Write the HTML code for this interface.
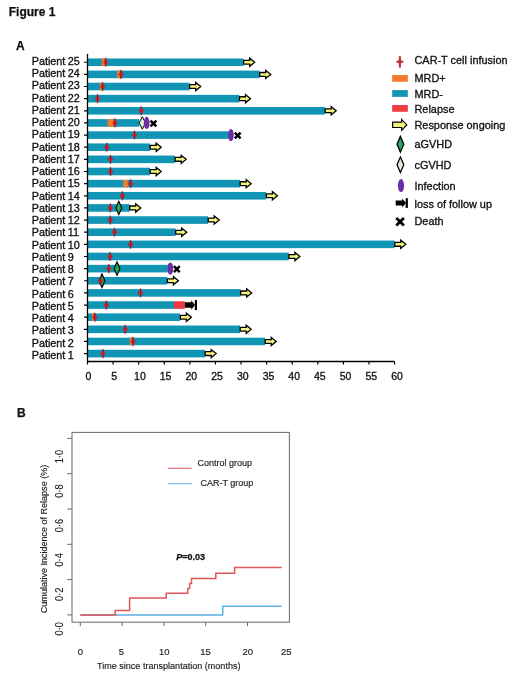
<!DOCTYPE html><html><head><meta charset="utf-8"><style>html,body{margin:0;padding:0;background:#fff;width:520px;height:677px;overflow:hidden}</style></head><body><svg width="520" height="677" viewBox="0 0 520 677" style="display:block;filter:blur(0.3px)">
<rect width="520" height="677" fill="#fff"/>
<text x="8.75" y="16.2" font-family="Liberation Sans, sans-serif" stroke="#111" stroke-width="0.25" font-size="12" font-weight="bold" fill="#111">Figure 1</text>
<text x="15.9" y="50" font-family="Liberation Sans, sans-serif" stroke="#111" stroke-width="0.25" font-size="12" font-weight="bold" fill="#111">A</text>
<rect x="88.0" y="349.80" width="117.00" height="7.6" fill="#1195b5"/>
<rect x="88.0" y="337.66" width="177.00" height="7.6" fill="#1195b5"/>
<rect x="129.8" y="337.66" width="2.40" height="7.6" fill="#f07c2c"/>
<rect x="88.0" y="325.52" width="152.00" height="7.6" fill="#1195b5"/>
<rect x="88.0" y="313.38" width="92.20" height="7.6" fill="#1195b5"/>
<rect x="92.0" y="313.38" width="2.50" height="7.6" fill="#f07c2c"/>
<rect x="88.0" y="301.24" width="86.00" height="7.6" fill="#1195b5"/>
<rect x="174.0" y="301.24" width="10.80" height="7.6" fill="#f03a42"/>
<rect x="88.0" y="289.10" width="152.50" height="7.6" fill="#1195b5"/>
<rect x="88.0" y="276.96" width="79.20" height="7.6" fill="#1195b5"/>
<rect x="88.0" y="264.82" width="79.80" height="7.6" fill="#1195b5"/>
<rect x="88.0" y="252.68" width="200.70" height="7.6" fill="#1195b5"/>
<rect x="88.0" y="240.54" width="306.60" height="7.6" fill="#1195b5"/>
<rect x="88.0" y="228.40" width="87.50" height="7.6" fill="#1195b5"/>
<rect x="88.0" y="216.26" width="120.00" height="7.6" fill="#1195b5"/>
<rect x="88.0" y="204.12" width="41.50" height="7.6" fill="#1195b5"/>
<rect x="88.0" y="191.98" width="178.20" height="7.6" fill="#1195b5"/>
<rect x="88.0" y="179.84" width="152.00" height="7.6" fill="#1195b5"/>
<rect x="123.2" y="179.84" width="4.60" height="7.6" fill="#f07c2c"/>
<rect x="88.0" y="167.70" width="62.00" height="7.6" fill="#1195b5"/>
<rect x="88.0" y="155.56" width="87.00" height="7.6" fill="#1195b5"/>
<rect x="88.0" y="143.42" width="62.00" height="7.6" fill="#1195b5"/>
<rect x="88.0" y="131.28" width="140.70" height="7.6" fill="#1195b5"/>
<rect x="88.0" y="119.14" width="51.20" height="7.6" fill="#1195b5"/>
<rect x="107.5" y="119.14" width="6.30" height="7.6" fill="#f07c2c"/>
<rect x="88.0" y="107.00" width="237.00" height="7.6" fill="#1195b5"/>
<rect x="88.0" y="94.86" width="151.30" height="7.6" fill="#1195b5"/>
<rect x="88.0" y="82.72" width="101.50" height="7.6" fill="#1195b5"/>
<rect x="99.8" y="82.72" width="2.20" height="7.6" fill="#f07c2c"/>
<rect x="88.0" y="70.58" width="171.50" height="7.6" fill="#1195b5"/>
<rect x="117.2" y="70.58" width="3.30" height="7.6" fill="#f07c2c"/>
<rect x="88.0" y="58.44" width="155.50" height="7.6" fill="#1195b5"/>
<rect x="101.8" y="58.44" width="3.20" height="7.6" fill="#f07c2c"/>
<path transform="translate(103.00,353.60)" d="M0,-4.6 C0.5,-2.8 1.2,-1.2 2.4,0 C1.2,1.2 0.5,2.8 0,4.6 C-0.5,2.8 -1.2,1.2 -2.4,0 C-1.2,-1.2 -0.5,-2.8 0,-4.6 Z" fill="#df1b2a" stroke="#a01822" stroke-width="0.4"/><path transform="translate(103.00,353.60)" d="M0,-4.2 L0,4.2" stroke="#8a1020" stroke-width="0.6"/>
<path transform="translate(205.00,353.60) scale(1.0)" d="M0.2,-1.9 L6.2,-1.9 L6.2,-4.1 L11.2,0 L6.2,4.1 L6.2,1.9 L0.2,1.9 Z" fill="#f5f27c" stroke="#000" stroke-width="1.3" stroke-linejoin="miter"/>
<path transform="translate(133.00,341.46)" d="M0,-4.6 C0.5,-2.8 1.2,-1.2 2.4,0 C1.2,1.2 0.5,2.8 0,4.6 C-0.5,2.8 -1.2,1.2 -2.4,0 C-1.2,-1.2 -0.5,-2.8 0,-4.6 Z" fill="#df1b2a" stroke="#a01822" stroke-width="0.4"/><path transform="translate(133.00,341.46)" d="M0,-4.2 L0,4.2" stroke="#8a1020" stroke-width="0.6"/>
<path transform="translate(265.00,341.46) scale(1.0)" d="M0.2,-1.9 L6.2,-1.9 L6.2,-4.1 L11.2,0 L6.2,4.1 L6.2,1.9 L0.2,1.9 Z" fill="#f5f27c" stroke="#000" stroke-width="1.3" stroke-linejoin="miter"/>
<path transform="translate(125.20,329.32)" d="M0,-4.6 C0.5,-2.8 1.2,-1.2 2.4,0 C1.2,1.2 0.5,2.8 0,4.6 C-0.5,2.8 -1.2,1.2 -2.4,0 C-1.2,-1.2 -0.5,-2.8 0,-4.6 Z" fill="#df1b2a" stroke="#a01822" stroke-width="0.4"/><path transform="translate(125.20,329.32)" d="M0,-4.2 L0,4.2" stroke="#8a1020" stroke-width="0.6"/>
<path transform="translate(240.00,329.32) scale(1.0)" d="M0.2,-1.9 L6.2,-1.9 L6.2,-4.1 L11.2,0 L6.2,4.1 L6.2,1.9 L0.2,1.9 Z" fill="#f5f27c" stroke="#000" stroke-width="1.3" stroke-linejoin="miter"/>
<path transform="translate(94.80,317.18)" d="M0,-4.6 C0.5,-2.8 1.2,-1.2 2.4,0 C1.2,1.2 0.5,2.8 0,4.6 C-0.5,2.8 -1.2,1.2 -2.4,0 C-1.2,-1.2 -0.5,-2.8 0,-4.6 Z" fill="#df1b2a" stroke="#a01822" stroke-width="0.4"/><path transform="translate(94.80,317.18)" d="M0,-4.2 L0,4.2" stroke="#8a1020" stroke-width="0.6"/>
<path transform="translate(180.20,317.18) scale(1.0)" d="M0.2,-1.9 L6.2,-1.9 L6.2,-4.1 L11.2,0 L6.2,4.1 L6.2,1.9 L0.2,1.9 Z" fill="#f5f27c" stroke="#000" stroke-width="1.3" stroke-linejoin="miter"/>
<path transform="translate(106.30,305.04)" d="M0,-4.6 C0.5,-2.8 1.2,-1.2 2.4,0 C1.2,1.2 0.5,2.8 0,4.6 C-0.5,2.8 -1.2,1.2 -2.4,0 C-1.2,-1.2 -0.5,-2.8 0,-4.6 Z" fill="#df1b2a" stroke="#a01822" stroke-width="0.4"/><path transform="translate(106.30,305.04)" d="M0,-4.2 L0,4.2" stroke="#8a1020" stroke-width="0.6"/>
<g transform="translate(184.80,305.04) scale(1.0)"><path d="M0,-2.7 L6.4,-2.7 L6.4,-4.8 L10.3,0 L6.4,4.8 L6.4,2.7 L0,2.7 Z" fill="#000"/><rect x="10.0" y="-5.0" width="2.2" height="10" fill="#000"/></g>
<path transform="translate(140.50,292.90)" d="M0,-4.6 C0.5,-2.8 1.2,-1.2 2.4,0 C1.2,1.2 0.5,2.8 0,4.6 C-0.5,2.8 -1.2,1.2 -2.4,0 C-1.2,-1.2 -0.5,-2.8 0,-4.6 Z" fill="#df1b2a" stroke="#a01822" stroke-width="0.4"/><path transform="translate(140.50,292.90)" d="M0,-4.2 L0,4.2" stroke="#8a1020" stroke-width="0.6"/>
<path transform="translate(240.50,292.90) scale(1.0)" d="M0.2,-1.9 L6.2,-1.9 L6.2,-4.1 L11.2,0 L6.2,4.1 L6.2,1.9 L0.2,1.9 Z" fill="#f5f27c" stroke="#000" stroke-width="1.3" stroke-linejoin="miter"/>
<path d="M102.00,273.96 L104.95,280.76 L102.00,287.56 L99.05,280.76 Z" fill="#25a65c" stroke="#000" stroke-width="1.1"/>
<path transform="translate(100.50,280.76)" d="M0,-4.6 C0.5,-2.8 1.2,-1.2 2.4,0 C1.2,1.2 0.5,2.8 0,4.6 C-0.5,2.8 -1.2,1.2 -2.4,0 C-1.2,-1.2 -0.5,-2.8 0,-4.6 Z" fill="#df1b2a" stroke="#a01822" stroke-width="0.4"/><path transform="translate(100.50,280.76)" d="M0,-4.2 L0,4.2" stroke="#8a1020" stroke-width="0.6"/>
<path transform="translate(167.20,280.76) scale(1.0)" d="M0.2,-1.9 L6.2,-1.9 L6.2,-4.1 L11.2,0 L6.2,4.1 L6.2,1.9 L0.2,1.9 Z" fill="#f5f27c" stroke="#000" stroke-width="1.3" stroke-linejoin="miter"/>
<path d="M117.00,261.82 L119.95,268.62 L117.00,275.42 L114.05,268.62 Z" fill="#25a65c" stroke="#000" stroke-width="1.1"/>
<path transform="translate(108.80,268.62)" d="M0,-4.6 C0.5,-2.8 1.2,-1.2 2.4,0 C1.2,1.2 0.5,2.8 0,4.6 C-0.5,2.8 -1.2,1.2 -2.4,0 C-1.2,-1.2 -0.5,-2.8 0,-4.6 Z" fill="#df1b2a" stroke="#a01822" stroke-width="0.4"/><path transform="translate(108.80,268.62)" d="M0,-4.2 L0,4.2" stroke="#8a1020" stroke-width="0.6"/>
<ellipse cx="170.30" cy="268.62" rx="2.9" ry="6.1" fill="#6b2ea3"/>
<path d="M173.90,266.22 L179.70,272.02 M179.70,266.22 L173.90,272.02" stroke="#000" stroke-width="2.5" fill="none"/>
<path transform="translate(110.00,256.48)" d="M0,-4.6 C0.5,-2.8 1.2,-1.2 2.4,0 C1.2,1.2 0.5,2.8 0,4.6 C-0.5,2.8 -1.2,1.2 -2.4,0 C-1.2,-1.2 -0.5,-2.8 0,-4.6 Z" fill="#df1b2a" stroke="#a01822" stroke-width="0.4"/><path transform="translate(110.00,256.48)" d="M0,-4.2 L0,4.2" stroke="#8a1020" stroke-width="0.6"/>
<path transform="translate(288.70,256.48) scale(1.0)" d="M0.2,-1.9 L6.2,-1.9 L6.2,-4.1 L11.2,0 L6.2,4.1 L6.2,1.9 L0.2,1.9 Z" fill="#f5f27c" stroke="#000" stroke-width="1.3" stroke-linejoin="miter"/>
<path transform="translate(130.50,244.34)" d="M0,-4.6 C0.5,-2.8 1.2,-1.2 2.4,0 C1.2,1.2 0.5,2.8 0,4.6 C-0.5,2.8 -1.2,1.2 -2.4,0 C-1.2,-1.2 -0.5,-2.8 0,-4.6 Z" fill="#df1b2a" stroke="#a01822" stroke-width="0.4"/><path transform="translate(130.50,244.34)" d="M0,-4.2 L0,4.2" stroke="#8a1020" stroke-width="0.6"/>
<path transform="translate(394.60,244.34) scale(1.0)" d="M0.2,-1.9 L6.2,-1.9 L6.2,-4.1 L11.2,0 L6.2,4.1 L6.2,1.9 L0.2,1.9 Z" fill="#f5f27c" stroke="#000" stroke-width="1.3" stroke-linejoin="miter"/>
<path transform="translate(114.50,232.20)" d="M0,-4.6 C0.5,-2.8 1.2,-1.2 2.4,0 C1.2,1.2 0.5,2.8 0,4.6 C-0.5,2.8 -1.2,1.2 -2.4,0 C-1.2,-1.2 -0.5,-2.8 0,-4.6 Z" fill="#df1b2a" stroke="#a01822" stroke-width="0.4"/><path transform="translate(114.50,232.20)" d="M0,-4.2 L0,4.2" stroke="#8a1020" stroke-width="0.6"/>
<path transform="translate(175.50,232.20) scale(1.0)" d="M0.2,-1.9 L6.2,-1.9 L6.2,-4.1 L11.2,0 L6.2,4.1 L6.2,1.9 L0.2,1.9 Z" fill="#f5f27c" stroke="#000" stroke-width="1.3" stroke-linejoin="miter"/>
<path transform="translate(110.30,220.06)" d="M0,-4.6 C0.5,-2.8 1.2,-1.2 2.4,0 C1.2,1.2 0.5,2.8 0,4.6 C-0.5,2.8 -1.2,1.2 -2.4,0 C-1.2,-1.2 -0.5,-2.8 0,-4.6 Z" fill="#df1b2a" stroke="#a01822" stroke-width="0.4"/><path transform="translate(110.30,220.06)" d="M0,-4.2 L0,4.2" stroke="#8a1020" stroke-width="0.6"/>
<path transform="translate(208.00,220.06) scale(1.0)" d="M0.2,-1.9 L6.2,-1.9 L6.2,-4.1 L11.2,0 L6.2,4.1 L6.2,1.9 L0.2,1.9 Z" fill="#f5f27c" stroke="#000" stroke-width="1.3" stroke-linejoin="miter"/>
<path d="M118.80,201.12 L121.75,207.92 L118.80,214.72 L115.85,207.92 Z" fill="#25a65c" stroke="#000" stroke-width="1.1"/>
<path transform="translate(110.30,207.92)" d="M0,-4.6 C0.5,-2.8 1.2,-1.2 2.4,0 C1.2,1.2 0.5,2.8 0,4.6 C-0.5,2.8 -1.2,1.2 -2.4,0 C-1.2,-1.2 -0.5,-2.8 0,-4.6 Z" fill="#df1b2a" stroke="#a01822" stroke-width="0.4"/><path transform="translate(110.30,207.92)" d="M0,-4.2 L0,4.2" stroke="#8a1020" stroke-width="0.6"/>
<path transform="translate(129.50,207.92) scale(1.0)" d="M0.2,-1.9 L6.2,-1.9 L6.2,-4.1 L11.2,0 L6.2,4.1 L6.2,1.9 L0.2,1.9 Z" fill="#f5f27c" stroke="#000" stroke-width="1.3" stroke-linejoin="miter"/>
<path transform="translate(122.40,195.78)" d="M0,-4.6 C0.5,-2.8 1.2,-1.2 2.4,0 C1.2,1.2 0.5,2.8 0,4.6 C-0.5,2.8 -1.2,1.2 -2.4,0 C-1.2,-1.2 -0.5,-2.8 0,-4.6 Z" fill="#df1b2a" stroke="#a01822" stroke-width="0.4"/><path transform="translate(122.40,195.78)" d="M0,-4.2 L0,4.2" stroke="#8a1020" stroke-width="0.6"/>
<path transform="translate(266.20,195.78) scale(1.0)" d="M0.2,-1.9 L6.2,-1.9 L6.2,-4.1 L11.2,0 L6.2,4.1 L6.2,1.9 L0.2,1.9 Z" fill="#f5f27c" stroke="#000" stroke-width="1.3" stroke-linejoin="miter"/>
<path transform="translate(130.70,183.64)" d="M0,-4.6 C0.5,-2.8 1.2,-1.2 2.4,0 C1.2,1.2 0.5,2.8 0,4.6 C-0.5,2.8 -1.2,1.2 -2.4,0 C-1.2,-1.2 -0.5,-2.8 0,-4.6 Z" fill="#df1b2a" stroke="#a01822" stroke-width="0.4"/><path transform="translate(130.70,183.64)" d="M0,-4.2 L0,4.2" stroke="#8a1020" stroke-width="0.6"/>
<path transform="translate(240.00,183.64) scale(1.0)" d="M0.2,-1.9 L6.2,-1.9 L6.2,-4.1 L11.2,0 L6.2,4.1 L6.2,1.9 L0.2,1.9 Z" fill="#f5f27c" stroke="#000" stroke-width="1.3" stroke-linejoin="miter"/>
<path transform="translate(110.50,171.50)" d="M0,-4.6 C0.5,-2.8 1.2,-1.2 2.4,0 C1.2,1.2 0.5,2.8 0,4.6 C-0.5,2.8 -1.2,1.2 -2.4,0 C-1.2,-1.2 -0.5,-2.8 0,-4.6 Z" fill="#df1b2a" stroke="#a01822" stroke-width="0.4"/><path transform="translate(110.50,171.50)" d="M0,-4.2 L0,4.2" stroke="#8a1020" stroke-width="0.6"/>
<path transform="translate(150.00,171.50) scale(1.0)" d="M0.2,-1.9 L6.2,-1.9 L6.2,-4.1 L11.2,0 L6.2,4.1 L6.2,1.9 L0.2,1.9 Z" fill="#f5f27c" stroke="#000" stroke-width="1.3" stroke-linejoin="miter"/>
<path transform="translate(110.50,159.36)" d="M0,-4.6 C0.5,-2.8 1.2,-1.2 2.4,0 C1.2,1.2 0.5,2.8 0,4.6 C-0.5,2.8 -1.2,1.2 -2.4,0 C-1.2,-1.2 -0.5,-2.8 0,-4.6 Z" fill="#df1b2a" stroke="#a01822" stroke-width="0.4"/><path transform="translate(110.50,159.36)" d="M0,-4.2 L0,4.2" stroke="#8a1020" stroke-width="0.6"/>
<path transform="translate(175.00,159.36) scale(1.0)" d="M0.2,-1.9 L6.2,-1.9 L6.2,-4.1 L11.2,0 L6.2,4.1 L6.2,1.9 L0.2,1.9 Z" fill="#f5f27c" stroke="#000" stroke-width="1.3" stroke-linejoin="miter"/>
<path transform="translate(106.80,147.22)" d="M0,-4.6 C0.5,-2.8 1.2,-1.2 2.4,0 C1.2,1.2 0.5,2.8 0,4.6 C-0.5,2.8 -1.2,1.2 -2.4,0 C-1.2,-1.2 -0.5,-2.8 0,-4.6 Z" fill="#df1b2a" stroke="#a01822" stroke-width="0.4"/><path transform="translate(106.80,147.22)" d="M0,-4.2 L0,4.2" stroke="#8a1020" stroke-width="0.6"/>
<path transform="translate(150.00,147.22) scale(1.0)" d="M0.2,-1.9 L6.2,-1.9 L6.2,-4.1 L11.2,0 L6.2,4.1 L6.2,1.9 L0.2,1.9 Z" fill="#f5f27c" stroke="#000" stroke-width="1.3" stroke-linejoin="miter"/>
<path transform="translate(134.50,135.08)" d="M0,-4.6 C0.5,-2.8 1.2,-1.2 2.4,0 C1.2,1.2 0.5,2.8 0,4.6 C-0.5,2.8 -1.2,1.2 -2.4,0 C-1.2,-1.2 -0.5,-2.8 0,-4.6 Z" fill="#df1b2a" stroke="#a01822" stroke-width="0.4"/><path transform="translate(134.50,135.08)" d="M0,-4.2 L0,4.2" stroke="#8a1020" stroke-width="0.6"/>
<ellipse cx="230.90" cy="135.08" rx="2.9" ry="6.1" fill="#6b2ea3"/>
<path d="M234.80,132.68 L240.60,138.48 M240.60,132.68 L234.80,138.48" stroke="#000" stroke-width="2.5" fill="none"/>
<path transform="translate(115.00,122.94)" d="M0,-4.6 C0.5,-2.8 1.2,-1.2 2.4,0 C1.2,1.2 0.5,2.8 0,4.6 C-0.5,2.8 -1.2,1.2 -2.4,0 C-1.2,-1.2 -0.5,-2.8 0,-4.6 Z" fill="#df1b2a" stroke="#a01822" stroke-width="0.4"/><path transform="translate(115.00,122.94)" d="M0,-4.2 L0,4.2" stroke="#8a1020" stroke-width="0.6"/>
<path d="M142.30,116.69 L145.55,122.94 L142.30,129.19 L139.05,122.94 Z" fill="#dcefd6" stroke="#000" stroke-width="1.0"/>
<ellipse cx="146.70" cy="122.94" rx="2.9" ry="6.1" fill="#6b2ea3"/>
<path d="M150.50,120.64 L156.30,126.44 M156.30,120.64 L150.50,126.44" stroke="#000" stroke-width="2.5" fill="none"/>
<path transform="translate(141.20,110.80)" d="M0,-4.6 C0.5,-2.8 1.2,-1.2 2.4,0 C1.2,1.2 0.5,2.8 0,4.6 C-0.5,2.8 -1.2,1.2 -2.4,0 C-1.2,-1.2 -0.5,-2.8 0,-4.6 Z" fill="#df1b2a" stroke="#a01822" stroke-width="0.4"/><path transform="translate(141.20,110.80)" d="M0,-4.2 L0,4.2" stroke="#8a1020" stroke-width="0.6"/>
<path transform="translate(325.00,110.80) scale(1.0)" d="M0.2,-1.9 L6.2,-1.9 L6.2,-4.1 L11.2,0 L6.2,4.1 L6.2,1.9 L0.2,1.9 Z" fill="#f5f27c" stroke="#000" stroke-width="1.3" stroke-linejoin="miter"/>
<path transform="translate(97.50,98.66)" d="M0,-4.6 C0.5,-2.8 1.2,-1.2 2.4,0 C1.2,1.2 0.5,2.8 0,4.6 C-0.5,2.8 -1.2,1.2 -2.4,0 C-1.2,-1.2 -0.5,-2.8 0,-4.6 Z" fill="#df1b2a" stroke="#a01822" stroke-width="0.4"/><path transform="translate(97.50,98.66)" d="M0,-4.2 L0,4.2" stroke="#8a1020" stroke-width="0.6"/>
<path transform="translate(239.30,98.66) scale(1.0)" d="M0.2,-1.9 L6.2,-1.9 L6.2,-4.1 L11.2,0 L6.2,4.1 L6.2,1.9 L0.2,1.9 Z" fill="#f5f27c" stroke="#000" stroke-width="1.3" stroke-linejoin="miter"/>
<path transform="translate(102.50,86.52)" d="M0,-4.6 C0.5,-2.8 1.2,-1.2 2.4,0 C1.2,1.2 0.5,2.8 0,4.6 C-0.5,2.8 -1.2,1.2 -2.4,0 C-1.2,-1.2 -0.5,-2.8 0,-4.6 Z" fill="#df1b2a" stroke="#a01822" stroke-width="0.4"/><path transform="translate(102.50,86.52)" d="M0,-4.2 L0,4.2" stroke="#8a1020" stroke-width="0.6"/>
<path transform="translate(189.50,86.52) scale(1.0)" d="M0.2,-1.9 L6.2,-1.9 L6.2,-4.1 L11.2,0 L6.2,4.1 L6.2,1.9 L0.2,1.9 Z" fill="#f5f27c" stroke="#000" stroke-width="1.3" stroke-linejoin="miter"/>
<path transform="translate(121.00,74.38)" d="M0,-4.6 C0.5,-2.8 1.2,-1.2 2.4,0 C1.2,1.2 0.5,2.8 0,4.6 C-0.5,2.8 -1.2,1.2 -2.4,0 C-1.2,-1.2 -0.5,-2.8 0,-4.6 Z" fill="#df1b2a" stroke="#a01822" stroke-width="0.4"/><path transform="translate(121.00,74.38)" d="M0,-4.2 L0,4.2" stroke="#8a1020" stroke-width="0.6"/>
<path transform="translate(259.50,74.38) scale(1.0)" d="M0.2,-1.9 L6.2,-1.9 L6.2,-4.1 L11.2,0 L6.2,4.1 L6.2,1.9 L0.2,1.9 Z" fill="#f5f27c" stroke="#000" stroke-width="1.3" stroke-linejoin="miter"/>
<path transform="translate(105.70,62.24)" d="M0,-4.6 C0.5,-2.8 1.2,-1.2 2.4,0 C1.2,1.2 0.5,2.8 0,4.6 C-0.5,2.8 -1.2,1.2 -2.4,0 C-1.2,-1.2 -0.5,-2.8 0,-4.6 Z" fill="#df1b2a" stroke="#a01822" stroke-width="0.4"/><path transform="translate(105.70,62.24)" d="M0,-4.2 L0,4.2" stroke="#8a1020" stroke-width="0.6"/>
<path transform="translate(243.50,62.24) scale(1.0)" d="M0.2,-1.9 L6.2,-1.9 L6.2,-4.1 L11.2,0 L6.2,4.1 L6.2,1.9 L0.2,1.9 Z" fill="#f5f27c" stroke="#000" stroke-width="1.3" stroke-linejoin="miter"/>
<path d="M87.5,54 L87.5,361.5 L394.6,361.5" stroke="#000" stroke-width="1.3" fill="none"/>
<path d="M84,353.60 L87.5,353.60 M84,341.46 L87.5,341.46 M84,329.32 L87.5,329.32 M84,317.18 L87.5,317.18 M84,305.04 L87.5,305.04 M84,292.90 L87.5,292.90 M84,280.76 L87.5,280.76 M84,268.62 L87.5,268.62 M84,256.48 L87.5,256.48 M84,244.34 L87.5,244.34 M84,232.20 L87.5,232.20 M84,220.06 L87.5,220.06 M84,207.92 L87.5,207.92 M84,195.78 L87.5,195.78 M84,183.64 L87.5,183.64 M84,171.50 L87.5,171.50 M84,159.36 L87.5,159.36 M84,147.22 L87.5,147.22 M84,135.08 L87.5,135.08 M84,122.94 L87.5,122.94 M84,110.80 L87.5,110.80 M84,98.66 L87.5,98.66 M84,86.52 L87.5,86.52 M84,74.38 L87.5,74.38 M84,62.24 L87.5,62.24 M87.50,361.5 L87.50,364.4 M113.09,361.5 L113.09,364.4 M138.68,361.5 L138.68,364.4 M164.27,361.5 L164.27,364.4 M189.86,361.5 L189.86,364.4 M215.45,361.5 L215.45,364.4 M241.04,361.5 L241.04,364.4 M266.63,361.5 L266.63,364.4 M292.22,361.5 L292.22,364.4 M317.81,361.5 L317.81,364.4 M343.40,361.5 L343.40,364.4 M368.99,361.5 L368.99,364.4 M394.58,361.5 L394.58,364.4" stroke="#000" stroke-width="1.2" fill="none"/>
<text x="31.7" y="358.80" font-family="Liberation Sans, sans-serif" stroke="#111" stroke-width="0.32" font-size="10.8" word-spacing="-0.6" fill="#111">Patient 1</text>
<text x="31.7" y="346.55" font-family="Liberation Sans, sans-serif" stroke="#111" stroke-width="0.32" font-size="10.8" word-spacing="-0.6" fill="#111">Patient 2</text>
<text x="31.7" y="334.31" font-family="Liberation Sans, sans-serif" stroke="#111" stroke-width="0.32" font-size="10.8" word-spacing="-0.6" fill="#111">Patient 3</text>
<text x="31.7" y="322.06" font-family="Liberation Sans, sans-serif" stroke="#111" stroke-width="0.32" font-size="10.8" word-spacing="-0.6" fill="#111">Patient 4</text>
<text x="31.7" y="309.82" font-family="Liberation Sans, sans-serif" stroke="#111" stroke-width="0.32" font-size="10.8" word-spacing="-0.6" fill="#111">Patient 5</text>
<text x="31.7" y="297.57" font-family="Liberation Sans, sans-serif" stroke="#111" stroke-width="0.32" font-size="10.8" word-spacing="-0.6" fill="#111">Patient 6</text>
<text x="31.7" y="285.32" font-family="Liberation Sans, sans-serif" stroke="#111" stroke-width="0.32" font-size="10.8" word-spacing="-0.6" fill="#111">Patient 7</text>
<text x="31.7" y="273.08" font-family="Liberation Sans, sans-serif" stroke="#111" stroke-width="0.32" font-size="10.8" word-spacing="-0.6" fill="#111">Patient 8</text>
<text x="31.7" y="260.83" font-family="Liberation Sans, sans-serif" stroke="#111" stroke-width="0.32" font-size="10.8" word-spacing="-0.6" fill="#111">Patient 9</text>
<text x="31.7" y="248.59" font-family="Liberation Sans, sans-serif" stroke="#111" stroke-width="0.32" font-size="10.8" word-spacing="-0.6" fill="#111">Patient 10</text>
<text x="31.7" y="236.34" font-family="Liberation Sans, sans-serif" stroke="#111" stroke-width="0.32" font-size="10.8" word-spacing="-0.6" fill="#111">Patient 11</text>
<text x="31.7" y="224.09" font-family="Liberation Sans, sans-serif" stroke="#111" stroke-width="0.32" font-size="10.8" word-spacing="-0.6" fill="#111">Patient 12</text>
<text x="31.7" y="211.85" font-family="Liberation Sans, sans-serif" stroke="#111" stroke-width="0.32" font-size="10.8" word-spacing="-0.6" fill="#111">Patient 13</text>
<text x="31.7" y="199.60" font-family="Liberation Sans, sans-serif" stroke="#111" stroke-width="0.32" font-size="10.8" word-spacing="-0.6" fill="#111">Patient 14</text>
<text x="31.7" y="187.36" font-family="Liberation Sans, sans-serif" stroke="#111" stroke-width="0.32" font-size="10.8" word-spacing="-0.6" fill="#111">Patient 15</text>
<text x="31.7" y="175.11" font-family="Liberation Sans, sans-serif" stroke="#111" stroke-width="0.32" font-size="10.8" word-spacing="-0.6" fill="#111">Patient 16</text>
<text x="31.7" y="162.86" font-family="Liberation Sans, sans-serif" stroke="#111" stroke-width="0.32" font-size="10.8" word-spacing="-0.6" fill="#111">Patient 17</text>
<text x="31.7" y="150.62" font-family="Liberation Sans, sans-serif" stroke="#111" stroke-width="0.32" font-size="10.8" word-spacing="-0.6" fill="#111">Patient 18</text>
<text x="31.7" y="138.37" font-family="Liberation Sans, sans-serif" stroke="#111" stroke-width="0.32" font-size="10.8" word-spacing="-0.6" fill="#111">Patient 19</text>
<text x="31.7" y="126.13" font-family="Liberation Sans, sans-serif" stroke="#111" stroke-width="0.32" font-size="10.8" word-spacing="-0.6" fill="#111">Patient 20</text>
<text x="31.7" y="113.88" font-family="Liberation Sans, sans-serif" stroke="#111" stroke-width="0.32" font-size="10.8" word-spacing="-0.6" fill="#111">Patient 21</text>
<text x="31.7" y="101.63" font-family="Liberation Sans, sans-serif" stroke="#111" stroke-width="0.32" font-size="10.8" word-spacing="-0.6" fill="#111">Patient 22</text>
<text x="31.7" y="89.39" font-family="Liberation Sans, sans-serif" stroke="#111" stroke-width="0.32" font-size="10.8" word-spacing="-0.6" fill="#111">Patient 23</text>
<text x="31.7" y="77.14" font-family="Liberation Sans, sans-serif" stroke="#111" stroke-width="0.32" font-size="10.8" word-spacing="-0.6" fill="#111">Patient 24</text>
<text x="31.7" y="64.90" font-family="Liberation Sans, sans-serif" stroke="#111" stroke-width="0.32" font-size="10.8" word-spacing="-0.6" fill="#111">Patient 25</text>
<text x="88.50" y="379.5" font-family="Liberation Sans, sans-serif" stroke="#111" stroke-width="0.32" font-size="10.5" fill="#111" text-anchor="middle">0</text>
<text x="114.21" y="379.5" font-family="Liberation Sans, sans-serif" stroke="#111" stroke-width="0.32" font-size="10.5" fill="#111" text-anchor="middle">5</text>
<text x="139.92" y="379.5" font-family="Liberation Sans, sans-serif" stroke="#111" stroke-width="0.32" font-size="10.5" fill="#111" text-anchor="middle">10</text>
<text x="165.63" y="379.5" font-family="Liberation Sans, sans-serif" stroke="#111" stroke-width="0.32" font-size="10.5" fill="#111" text-anchor="middle">15</text>
<text x="191.34" y="379.5" font-family="Liberation Sans, sans-serif" stroke="#111" stroke-width="0.32" font-size="10.5" fill="#111" text-anchor="middle">20</text>
<text x="217.05" y="379.5" font-family="Liberation Sans, sans-serif" stroke="#111" stroke-width="0.32" font-size="10.5" fill="#111" text-anchor="middle">25</text>
<text x="242.76" y="379.5" font-family="Liberation Sans, sans-serif" stroke="#111" stroke-width="0.32" font-size="10.5" fill="#111" text-anchor="middle">30</text>
<text x="268.47" y="379.5" font-family="Liberation Sans, sans-serif" stroke="#111" stroke-width="0.32" font-size="10.5" fill="#111" text-anchor="middle">35</text>
<text x="294.18" y="379.5" font-family="Liberation Sans, sans-serif" stroke="#111" stroke-width="0.32" font-size="10.5" fill="#111" text-anchor="middle">40</text>
<text x="319.89" y="379.5" font-family="Liberation Sans, sans-serif" stroke="#111" stroke-width="0.32" font-size="10.5" fill="#111" text-anchor="middle">45</text>
<text x="345.60" y="379.5" font-family="Liberation Sans, sans-serif" stroke="#111" stroke-width="0.32" font-size="10.5" fill="#111" text-anchor="middle">50</text>
<text x="371.31" y="379.5" font-family="Liberation Sans, sans-serif" stroke="#111" stroke-width="0.32" font-size="10.5" fill="#111" text-anchor="middle">55</text>
<text x="397.02" y="379.5" font-family="Liberation Sans, sans-serif" stroke="#111" stroke-width="0.32" font-size="10.5" fill="#111" text-anchor="middle">60</text>
<text x="414.5" y="64.4" font-family="Liberation Sans, sans-serif" stroke="#111" stroke-width="0.32" font-size="10.9" fill="#111">CAR-T cell infusion</text>
<text x="414.5" y="82.4" font-family="Liberation Sans, sans-serif" stroke="#111" stroke-width="0.32" font-size="10.9" fill="#111">MRD+</text>
<text x="414.5" y="97.9" font-family="Liberation Sans, sans-serif" stroke="#111" stroke-width="0.32" font-size="10.9" fill="#111">MRD-</text>
<text x="414.5" y="113.4" font-family="Liberation Sans, sans-serif" stroke="#111" stroke-width="0.32" font-size="10.9" fill="#111">Relapse</text>
<text x="414.5" y="128.8" font-family="Liberation Sans, sans-serif" stroke="#111" stroke-width="0.32" font-size="10.9" fill="#111">Response ongoing</text>
<text x="414.5" y="148.0" font-family="Liberation Sans, sans-serif" stroke="#111" stroke-width="0.32" font-size="10.9" fill="#111">aGVHD</text>
<text x="414.5" y="169.1" font-family="Liberation Sans, sans-serif" stroke="#111" stroke-width="0.32" font-size="10.9" fill="#111">cGVHD</text>
<text x="414.5" y="189.9" font-family="Liberation Sans, sans-serif" stroke="#111" stroke-width="0.32" font-size="10.9" fill="#111">Infection</text>
<text x="414.5" y="207.8" font-family="Liberation Sans, sans-serif" stroke="#111" stroke-width="0.32" font-size="10.9" fill="#111">loss of follow up</text>
<text x="414.5" y="224.6" font-family="Liberation Sans, sans-serif" stroke="#111" stroke-width="0.32" font-size="10.9" fill="#111">Death</text>
<path transform="translate(399.90,61.80) scale(0.93)" d="M-0.65,-6 L0.65,-6 L0.8,-1.4 L4.0,0 L0.8,1.4 L0.65,6 L-0.65,6 L-0.8,1.4 L-4.0,0 L-0.8,-1.4 Z" fill="#df1b2a" stroke="#7a1020" stroke-width="0.55"/>
<rect x="392.2" y="75.0" width="15.6" height="6.8" fill="#f07c2c"/>
<rect x="392.2" y="90.1" width="15.6" height="6.8" fill="#1195b5"/>
<rect x="392.2" y="105.0" width="15.6" height="6.8" fill="#f03a42"/>
<path d="M392.6,122.1 L401.6,122.1 L401.6,119.4 L406.8,124.9 L401.6,130.3 L401.6,127.5 L392.6,127.5 Z" fill="#f5f27c" stroke="#000" stroke-width="1.2"/>
<path d="M400.40,136.40 L403.80,144.30 L400.40,152.20 L397.00,144.30 Z" fill="#25a65c" stroke="#000" stroke-width="1.3"/>
<path d="M400.40,157.10 L403.80,164.80 L400.40,172.50 L397.00,164.80 Z" fill="#dcefd6" stroke="#000" stroke-width="1.3"/>
<ellipse cx="401.00" cy="185.60" rx="3.1" ry="6.5" fill="#6b2ea3"/>
<path d="M395.7,200.6 L402.2,200.6 L402.2,198.4 L406.0,203.0 L402.2,207.6 L402.2,205.4 L395.7,205.4 Z" fill="#000"/>
<rect x="405.6" y="198.2" width="2.3" height="9.7" fill="#000"/>
<path d="M396.30,218.00 L403.90,225.60 M403.90,218.00 L396.30,225.60" stroke="#000" stroke-width="2.8" fill="none"/>
<text x="17" y="417.1" font-family="Liberation Sans, sans-serif" stroke="#111" stroke-width="0.25" font-size="12" font-weight="bold" fill="#111">B</text>
<rect x="72" y="432.4" width="217.4" height="189.8" fill="none" stroke="#6e6e6e" stroke-width="1.05"/>
<path d="M67.2,438.40 L72,438.40 M67.2,473.70 L72,473.70 M67.2,509.00 L72,509.00 M67.2,544.30 L72,544.30 M67.2,579.60 L72,579.60 M67.2,614.90 L72,614.90 M80.30,622.2 L80.30,626.2 M122.10,622.2 L122.10,626.2 M163.90,622.2 L163.90,626.2 M205.70,622.2 L205.70,626.2 M247.50,622.2 L247.50,626.2" stroke="#6a6a6a" stroke-width="1" fill="none"/>
<text transform="translate(62.6,456.60) rotate(-90) scale(0.93,1)" font-family="Liberation Sans, sans-serif" stroke="#222" stroke-width="0.15" font-size="10" fill="#222" text-anchor="middle">1·0</text>
<text transform="translate(62.6,491.02) rotate(-90) scale(0.93,1)" font-family="Liberation Sans, sans-serif" stroke="#222" stroke-width="0.15" font-size="10" fill="#222" text-anchor="middle">0·8</text>
<text transform="translate(62.6,525.44) rotate(-90) scale(0.93,1)" font-family="Liberation Sans, sans-serif" stroke="#222" stroke-width="0.15" font-size="10" fill="#222" text-anchor="middle">0·6</text>
<text transform="translate(62.6,559.86) rotate(-90) scale(0.93,1)" font-family="Liberation Sans, sans-serif" stroke="#222" stroke-width="0.15" font-size="10" fill="#222" text-anchor="middle">0·4</text>
<text transform="translate(62.6,594.28) rotate(-90) scale(0.93,1)" font-family="Liberation Sans, sans-serif" stroke="#222" stroke-width="0.15" font-size="10" fill="#222" text-anchor="middle">0·2</text>
<text transform="translate(62.6,628.70) rotate(-90) scale(0.93,1)" font-family="Liberation Sans, sans-serif" stroke="#222" stroke-width="0.15" font-size="10" fill="#222" text-anchor="middle">0·0</text>
<text x="80.35" y="655.0" font-family="Liberation Sans, sans-serif" stroke="#222" stroke-width="0.15" font-size="9.5" fill="#222" text-anchor="middle">0</text>
<text x="121.30" y="655.0" font-family="Liberation Sans, sans-serif" stroke="#222" stroke-width="0.15" font-size="9.5" fill="#222" text-anchor="middle">5</text>
<text x="164.30" y="655.0" font-family="Liberation Sans, sans-serif" stroke="#222" stroke-width="0.15" font-size="9.5" fill="#222" text-anchor="middle">10</text>
<text x="205.60" y="655.0" font-family="Liberation Sans, sans-serif" stroke="#222" stroke-width="0.15" font-size="9.5" fill="#222" text-anchor="middle">15</text>
<text x="247.80" y="655.0" font-family="Liberation Sans, sans-serif" stroke="#222" stroke-width="0.15" font-size="9.5" fill="#222" text-anchor="middle">20</text>
<text x="286.20" y="655.0" font-family="Liberation Sans, sans-serif" stroke="#222" stroke-width="0.15" font-size="9.5" fill="#222" text-anchor="middle">25</text>
<text transform="translate(46.9,539.0) rotate(-90)" font-family="Liberation Sans, sans-serif" stroke="#222" stroke-width="0.15" font-size="9.02" fill="#222" text-anchor="middle">Cumulative Incidence of Relapse (%)</text>
<text x="97" y="668.8" font-family="Liberation Sans, sans-serif" stroke="#222" stroke-width="0.15" font-size="9.05" fill="#222">Time since transplantation (months)</text>
<path d="M80.3,614.9 L222.7,614.9 L222.7,606.3 L281.7,606.3" stroke="#5ab0e2" stroke-width="1.5" fill="none"/>
<path d="M80.3,614.9 L115.2,614.9 L115.2,610.6 L129.6,610.6 L129.6,597.9 L166.2,597.9 L166.2,593.3 L187.7,593.3 L187.7,588.5 L189.6,588.5 L189.6,583.5 L191.5,583.5 L191.5,578.5 L215.8,578.5 L215.8,573.3 L234.6,573.3 L234.6,567.5 L281.7,567.5" stroke="#e0545a" stroke-width="1.5" fill="none"/>
<path d="M168.1,468.3 L191.7,468.3" stroke="#e0545a" stroke-width="1"/>
<path d="M168.1,483.7 L191.7,483.7" stroke="#5ab0e2" stroke-width="1"/>
<text x="197.5" y="466.3" font-family="Liberation Sans, sans-serif" stroke="#222" stroke-width="0.15" font-size="9" fill="#222">Control group</text>
<text x="200.4" y="485.6" font-family="Liberation Sans, sans-serif" stroke="#222" stroke-width="0.15" font-size="9" fill="#222">CAR-T group</text>
<text x="176.3" y="560.4" font-family="Liberation Sans, sans-serif" stroke="#111" stroke-width="0.25" font-size="9" font-weight="bold" fill="#111"><tspan font-style="italic">P</tspan>=0.03</text>
</svg></body></html>
